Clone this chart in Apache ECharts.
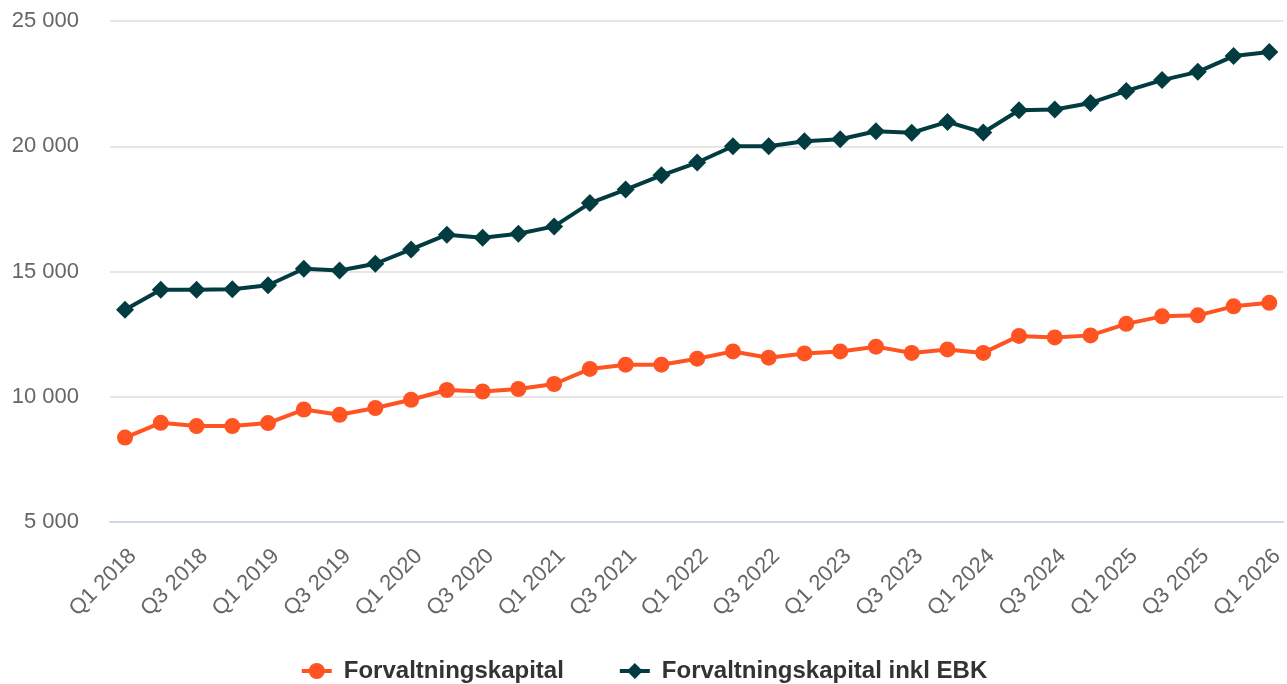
<!DOCTYPE html>
<html>
<head>
<meta charset="utf-8">
<script src="https://cdn.jsdelivr.net/npm/echarts@6/dist/echarts.min.js"></script>
<style>
html,body{margin:0;padding:0;background:#fff;}
#chart{width:1287px;height:684px;}
</style>
</head>
<body>
<div id="chart"></div>
<script>
var categories = [
  "Q1 2018","Q2 2018","Q3 2018","Q4 2018",
  "Q1 2019","Q2 2019","Q3 2019","Q4 2019",
  "Q1 2020","Q2 2020","Q3 2020","Q4 2020",
  "Q1 2021","Q2 2021","Q3 2021","Q4 2021",
  "Q1 2022","Q2 2022","Q3 2022","Q4 2022",
  "Q1 2023","Q2 2023","Q3 2023","Q4 2023",
  "Q1 2024","Q2 2024","Q3 2024","Q4 2024",
  "Q1 2025","Q2 2025","Q3 2025","Q4 2025",
  "Q1 2026"
];
var forvaltningskapital = [
  8370, 8960, 8830, 8830,
  8950, 9490, 9280, 9550,
  9880, 10270, 10210, 10310,
  10510, 11110, 11280, 11280,
  11520, 11810, 11560, 11730,
  11810, 12000, 11750, 11890,
  11750, 12430, 12370, 12450,
  12910, 13210, 13250, 13610,
  13750
];
var forvaltningskapitalInklEBK = [
  13470, 14270, 14270, 14290,
  14450, 15110, 15040, 15310,
  15880, 16470, 16350, 16510,
  16800, 17730, 18270, 18840,
  19350, 20000, 20000, 20200,
  20280, 20600, 20540, 20970,
  20550, 21440, 21470, 21730,
  22210, 22640, 22970, 23600,
  23760
];
var xLabelPositions = [0, 2, 4, 6, 8, 10, 12, 14, 16, 18, 20, 22, 24, 26, 28, 30, 32];
var yTicks = { min: 5000, max: 25000, interval: 5000 };

function pairs(arr) { return arr.map(function (v, i) { return [i, v]; }); }
function fmtThousands(v) { return String(v).replace(/\B(?=(\d{3})+(?!\d))/g, ' '); }

var FONT = '"Liberation Sans", Arial, Helvetica, sans-serif';
var chart = echarts.init(document.getElementById('chart'), null, { renderer: 'canvas' });
chart.setOption({
  backgroundColor: '#ffffff',
  animation: false,
  grid: { left: 110, right: 0, top: 21, bottom: 162, containLabel: false },
  xAxis: {
    type: 'value',
    min: -0.42,
    max: 32.39,
    axisLine: { show: true, lineStyle: { color: '#ccd6eb', width: 2 } },
    axisTick: { show: false },
    splitLine: { show: false },
    axisLabel: {
      customValues: xLabelPositions,
      rotate: 45,
      margin: 23,
      verticalAlign: 'top',
      color: '#666666',
      fontSize: 22,
      fontFamily: FONT,
      formatter: function (v) { return categories[Math.round(v)]; }
    }
  },
  yAxis: {
    type: 'value',
    min: yTicks.min,
    max: yTicks.max,
    interval: yTicks.interval,
    axisLine: { show: false },
    axisTick: { show: false },
    splitLine: { show: true, lineStyle: { color: '#e6e6e6', width: 2 } },
    axisLabel: {
      margin: 31,
      color: '#666666',
      fontSize: 22,
      fontFamily: FONT,
      formatter: function (v) { return fmtThousands(v); }
    }
  },
  legend: {
    top: 654,
    left: 'center',
    itemWidth: 30,
    itemHeight: 20,
    itemGap: 54,
    lineStyle: { width: 4 },
    textStyle: { color: '#333333', fontSize: 24, fontWeight: 'bold', fontFamily: FONT, padding: [0, 0, 0, 7] },
    data: ['Forvaltningskapital', 'Forvaltningskapital inkl EBK']
  },
  series: [
    {
      name: 'Forvaltningskapital',
      type: 'line',
      data: pairs(forvaltningskapital),
      symbol: 'circle',
      symbolSize: 16,
      color: '#ff5421',
      lineStyle: { width: 4, color: '#ff5421' },
      itemStyle: { color: '#ff5421' }
    },
    {
      name: 'Forvaltningskapital inkl EBK',
      type: 'line',
      data: pairs(forvaltningskapitalInklEBK),
      symbol: 'diamond',
      symbolSize: 18,
      color: '#023c40',
      lineStyle: { width: 4, color: '#023c40' },
      itemStyle: { color: '#023c40' }
    }
  ]
});
</script>
</body>
</html>
